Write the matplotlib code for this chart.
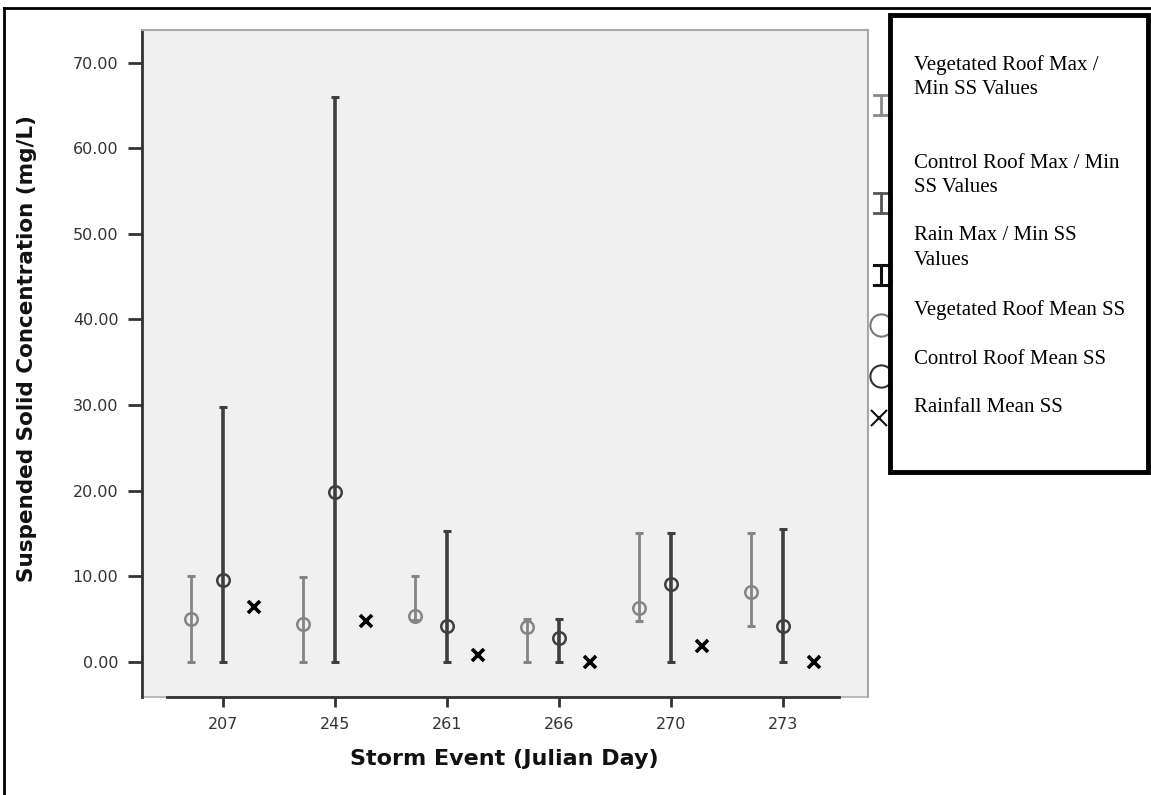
#!/usr/bin/env python3
"""Suspended solids per storm event: vegetated vs control roof vs rainfall."""
import numpy as np
import matplotlib
matplotlib.use("Agg")
import matplotlib.pyplot as plt
from matplotlib.patches import Rectangle
from matplotlib.lines import Line2D

events = ["207", "245", "261", "266", "270", "273"]
veg_mean = [5.0, 4.4, 5.4, 4.1, 6.3, 8.2]
veg_max = [10.0, 9.9, 10.0, 5.0, 15.0, 15.0]
veg_min = [0.0, 0.0, 4.9, 0.0, 4.8, 4.2]
ctl_mean = [9.6, 19.8, 4.2, 2.8, 9.1, 4.2]
ctl_max = [29.8, 66.0, 15.3, 5.0, 15.1, 15.5]
ctl_min = [0.0, 0.0, 0.0, 0.0, 0.0, 0.0]
rain_mean = [6.4, 4.8, 0.8, 0.0, 1.8, 0.0]
y_ticks = [0, 10, 20, 30, 40, 50, 60, 70]
legend_labels = [
    ["Vegetated Roof Max /", "Min SS Values"],
    ["Control Roof Max / Min", "SS Values"],
    ["Rain Max / Min SS", "Values"],
    ["Vegetated Roof Mean SS"],
    ["Control Roof Mean SS"],
    ["Rainfall Mean SS"],
]

VEG = "#858585"
CTL = "#3f3f3f"
W, H = 1151, 795

fig = plt.figure(figsize=(W / 100, H / 100), dpi=100)
fig.patch.set_facecolor("white")

# outer frame (top + left)
fig.add_artist(Line2D([4 / W, 1], [1 - 8 / H] * 2, color="black", lw=2))
fig.add_artist(Line2D([4 / W] * 2, [0, 1 - 8 / H], color="black", lw=2))

ax = fig.add_axes([142 / W, 1 - 697 / H, (868 - 142) / W, (697 - 30) / H])
ax.set_facecolor("#f0f0f0")

x = np.arange(len(events))
off = 0.28

def draw_err(xs, mean, lo, hi, color, lw):
    mean = np.array(mean); lo = np.array(lo); hi = np.array(hi)
    ax.errorbar(xs, mean, yerr=[mean - lo, hi - mean], fmt="none",
                ecolor=color, elinewidth=lw, capsize=3, capthick=2.2, zorder=2)
    ax.plot(xs, mean, "o", ms=9, mfc="none", mec=color, mew=1.8, zorder=3)

draw_err(x - off, veg_mean, veg_min, veg_max, VEG, 2.0)
draw_err(x, ctl_mean, ctl_min, ctl_max, CTL, 2.6)
ax.plot(x + off, rain_mean, "x", ms=8, color="black", mew=2.6, zorder=3)

ax.set_xlim(-0.72, 5.76)
ax.set_ylim(-4.1, 73.8)
ax.set_xticks(x)
ax.set_xticklabels(events)
ax.set_yticks(y_ticks)
ax.set_yticklabels([f"{v:.2f}" for v in y_ticks])
ax.tick_params(axis="both", labelsize=11.5, labelcolor="#333333", color="#333333", width=2)
ax.tick_params(axis="y", length=10, pad=7)
ax.tick_params(axis="x", length=7.5, pad=7)

for s in ["top", "right"]:
    ax.spines[s].set_color("#a8a8a8")
    ax.spines[s].set_linewidth(1.5)
ax.spines["left"].set_color("#333333")
ax.spines["left"].set_linewidth(2)
ax.spines["bottom"].set_color("#333333")
ax.spines["bottom"].set_linewidth(2)
ax.spines["bottom"].set_bounds(-0.5, 5.5)
ax.add_patch(Rectangle((0, 0), 1, 1, transform=ax.transAxes, fill=False,
                       edgecolor="#b0b0b0", lw=1.2, zorder=0.5, clip_on=False))

fig.text(27 / W, 1 - 348 / H, "Suspended Solid Concentration (mg/L)", rotation=90,
         ha="center", va="center", fontsize=15.5, fontweight="bold", color="#111111")
fig.text(504 / W, 1 - 759 / H, "Storm Event (Julian Day)", ha="center", va="center",
         fontsize=16, fontweight="bold", color="#111111")

# legend symbols, partly hidden behind the text box
def ibar(yc, color, lw):
    xc = 881 / W
    h = 10 / H
    cw = 7 / W
    fig.add_artist(Line2D([xc, xc], [yc - h, yc + h], color=color, lw=lw))
    for yy in (yc - h, yc + h):
        fig.add_artist(Line2D([xc - cw, xc + cw], [yy, yy], color=color, lw=lw))

ibar(1 - 105 / H, "#8a8a8a", 2)
ibar(1 - 203 / H, "#555555", 2)
ibar(1 - 275 / H, "#111111", 2.2)
fig.add_artist(Line2D([881 / W], [1 - 325 / H], marker="o", ms=16, mfc="white",
                      mec="#777777", mew=1.5))
fig.add_artist(Line2D([881 / W], [1 - 376 / H], marker="o", ms=16, mfc="white",
                      mec="#333333", mew=1.5))
fig.add_artist(Line2D([879 / W], [1 - 418 / H], marker="x", ms=11, color="#111111",
                      mew=1.5))

fig.add_artist(Rectangle((890 / W, 1 - 472 / H), (1148 - 890) / W, (472 - 15) / H,
                         transform=fig.transFigure, facecolor="white",
                         edgecolor="black", lw=3.5, zorder=5))

line_y = [[65, 90], [163, 188], [235, 261], [310], [360], [408]]
for labels, ys in zip(legend_labels, line_y):
    for lab, yy in zip(labels, ys):
        fig.text(914 / W, 1 - yy / H, lab, ha="left", va="center", fontsize=15,
                 family="Liberation Serif", color="black", zorder=6)

fig.savefig("out.png", dpi=100)
